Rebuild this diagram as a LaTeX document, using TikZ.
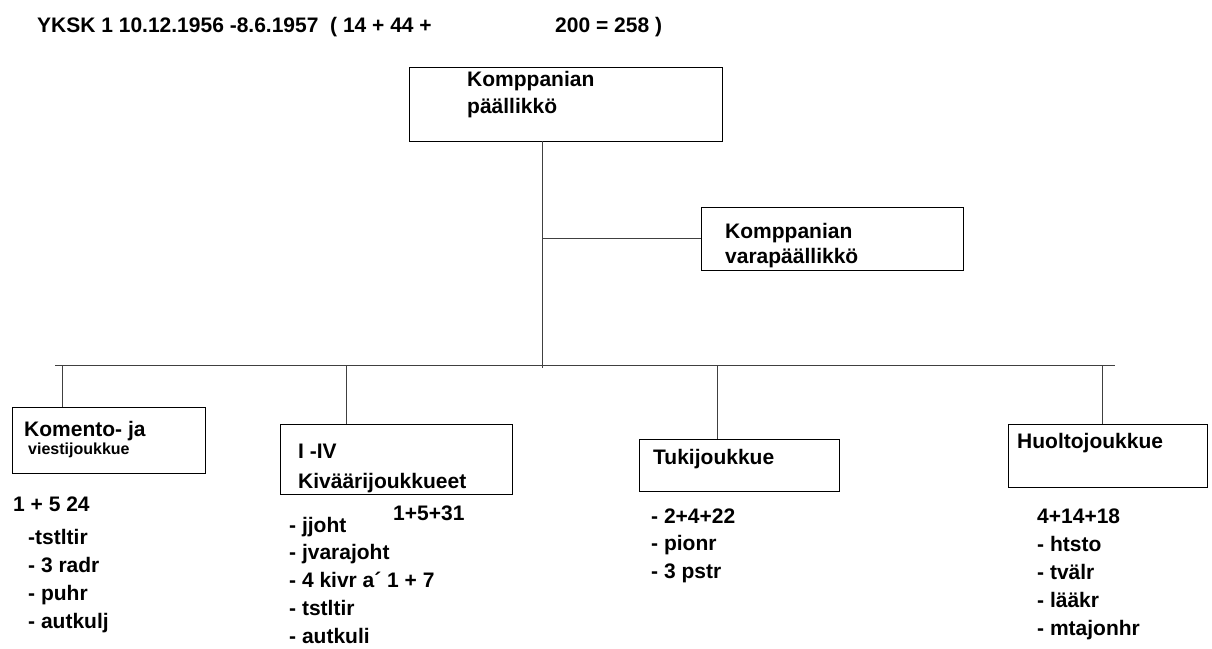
\documentclass[tikz,border=0pt]{standalone}
\usepackage{fontspec}
\setmainfont{Liberation Sans}
\usetikzlibrary{positioning}

\begin{document}
\begin{tikzpicture}[x=1pt,y=-1pt,
  box/.style={draw=black, line width=0.9pt, inner sep=0pt},
  txt/.style={anchor=base west, inner sep=0pt, font=\fontsize{21}{25}\selectfont\bfseries},
  smalltxt/.style={txt, font=\fontsize{16}{19}\selectfont\bfseries},
  link/.style={draw=black!75, line width=0.9pt}]
\useasboundingbox (0,0) rectangle (1212,648);

% heading
\node[txt] (title) at (37,32) {YKSK 1 10.12.1956 -8.6.1957\ \ ( 14 + 44 +};
\node[txt] (total) at (555,32) {200 = 258 )};

% boxes
\node[box, minimum width=313pt, minimum height=74pt] (chief) at (565.5,104) {};
\node[box, minimum width=262pt, minimum height=63pt] (deputy) at (832,238.5) {};
\node[box, minimum width=193pt, minimum height=66pt] (komento) at (108.5,440) {};
\node[box, minimum width=232pt, minimum height=70pt] (kivaari) at (396,459) {};
\node[box, minimum width=200pt, minimum height=52pt] (tuki) at (739,465) {};
\node[box, minimum width=199pt, minimum height=63pt] (huolto) at (1107.5,455.5) {};

% box texts
\node[txt] (chief-a) at (467,86) {Komppanian};
\node[txt] (chief-b) at (467,113) {päällikkö};
\node[txt] (deputy-a) at (725,238) {Komppanian};
\node[txt] (deputy-b) at (725,263) {varapäällikkö};
\node[txt] (komento-a) at (24,436) {Komento- ja};
\node[smalltxt] (komento-b) at (28,454) {viestijoukkue};
\node[txt] (kivaari-a) at (298,458) {I -IV};
\node[txt] (kivaari-b) at (298,488) {Kiväärijoukkueet};
\node[txt] (tuki-a) at (653,464) {Tukijoukkue};
\node[txt] (huolto-a) at (1017,448) {Huoltojoukkue};

% strengths
\node[txt] (komento-n) at (13,511) {1 + 5 24};
\node[txt] (kivaari-n) at (393,520) {1+5+31};

% lists
\foreach \t [count=\i from 0] in {-tstltir, - 3 radr, - puhr, - autkulj}
  \node[txt] (kom-\i) at (28,544+28.3*\i) {\t};
\foreach \t [count=\i from 0] in {- jjoht, - jvarajoht, - 4 kivr a´ 1 + 7, - tstltir, - autkuli}
  \node[txt] (kiv-\i) at (289,532+27.8*\i) {\t};
\foreach \t [count=\i from 0] in {- 2+4+22, - pionr, - 3 pstr}
  \node[txt] (tuk-\i) at (651,523+27.5*\i) {\t};
\foreach \t [count=\i from 0] in {4+14+18, - htsto, - tvälr, - lääkr, - mtajonhr}
  \node[txt] (huo-\i) at (1037,523+28*\i) {\t};

% connectors
\coordinate (busL) at (55,365);
\coordinate (busR) at (1115,365);
\coordinate (trunk) at (542,368);
\draw[link] (busL) -- (busR);
\draw[link] (trunk |- chief.south) -- (trunk);
\draw[link] (trunk |- deputy.west) -- (deputy.west);
\foreach \x/\b in {62/komento,346/kivaari,717/tuki,1102/huolto}{
  \coordinate (tap-\b) at (\x,365);
  \draw[link] (tap-\b) -- (tap-\b |- \b.north);
}
\end{tikzpicture}
\end{document}
